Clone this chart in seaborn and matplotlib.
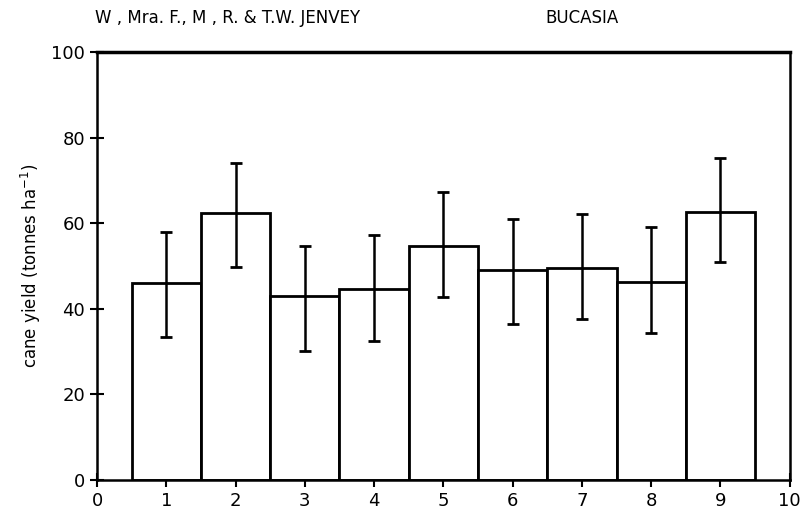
import numpy as np
import pandas as pd
import matplotlib
matplotlib.use("Agg")
import matplotlib.pyplot as plt
import seaborn as sns

# values
treatment = [1, 2, 3, 4, 5, 6, 7, 8, 9]
mean_yield = [46.0, 62.3, 42.9, 44.7, 54.6, 49.0, 49.6, 46.3, 62.7]
err_low = [33.4, 49.7, 30.1, 32.5, 42.7, 36.4, 37.6, 34.4, 50.9]
err_high = [58.0, 74.1, 54.6, 57.2, 67.2, 61.0, 62.2, 59.0, 75.2]
x_ticks = [0, 1, 2, 3, 4, 5, 6, 7, 8, 9, 10]
y_ticks = [0, 20, 40, 60, 80, 100]

df = pd.DataFrame({"treatment": treatment, "yield": mean_yield})

sns.set_style("ticks")
plt.rcParams["font.family"] = ["DejaVu Sans"]
plt.rcParams["text.color"] = "black"
plt.rcParams["axes.labelcolor"] = "black"

fig = plt.figure(figsize=(8.05, 5.18), dpi=100)
ax = fig.add_axes([0.1205, 0.0734, 0.8605, 0.8262])

sns.barplot(data=df, x="treatment", y="yield", native_scale=True, width=1.0,
            color="white", edgecolor="black", linewidth=2, errorbar=None, ax=ax)

yerr = [np.array(mean_yield) - np.array(err_low), np.array(err_high) - np.array(mean_yield)]
ax.errorbar(treatment, mean_yield, yerr=yerr, fmt="none", ecolor="black",
            elinewidth=1.8, capsize=4, capthick=2)

ax.set_xlim(0, 10)
ax.set_ylim(0, 100)
ax.set_xticks(x_ticks)
ax.set_yticks(y_ticks)
ax.tick_params(direction="inout", length=10, width=1.5, labelsize=13, colors="black")
for s in ax.spines.values():
    s.set_visible(True)
    s.set_linewidth(1.8)
    s.set_color("black")
ax.spines["top"].set_linewidth(2.5)

ax.set_xlabel("")
ax.set_ylabel("cane yield (tonnes ha$^{-1}$)", fontsize=12, labelpad=6, color="black")

fig.text(0.118, 0.965, "W , Mra. F., M , R. & T.W. JENVEY", fontsize=12, va="center",
         color="black")
fig.text(0.677, 0.965, "BUCASIA", fontsize=12, va="center", color="black")

fig.savefig("out.png", dpi=100, facecolor="white")
